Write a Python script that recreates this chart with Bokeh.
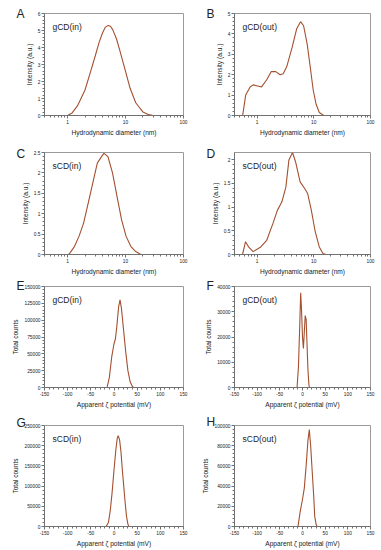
from bokeh.plotting import figure
from bokeh.layouts import gridplot
from bokeh.models import Range1d, FixedTicker, NumeralTickFormatter, Label
from bokeh.embed import file_html
from bokeh.resources import INLINE

# ---------------- data ----------------
# A: gCD(in) size distribution
a_d = [1.0, 1.2, 1.5, 2.0, 2.5, 3.0, 3.5, 4.0, 4.5, 5.0, 5.5, 6.0, 7.0, 8.0, 10, 12, 15, 20, 25, 30]
a_i = [0.0, 0.15, 0.6, 1.5, 2.6, 3.5, 4.3, 4.85, 5.2, 5.3, 5.25, 5.05, 4.5, 3.8, 2.6, 1.6, 0.75, 0.2, 0.05, 0.0]
# B: gCD(out) size distribution
b_d = [0.557, 0.63, 0.755, 0.853, 1.02, 1.2, 1.48, 1.77, 2.13, 2.55, 2.89, 3.34, 4.16, 4.99, 5.85, 6.61, 7.65, 8.64, 9.76, 11.0, 12.5, 15.0]
b_i = [0.0, 1.0, 1.4, 1.5, 1.45, 1.4, 1.75, 2.15, 2.15, 2.0, 2.05, 2.4, 3.35, 4.25, 4.6, 4.4, 3.5, 2.4, 1.25, 0.55, 0.15, 0.0]
# C: sCD(in) size distribution
c_d = [1.04, 1.10, 1.32, 1.58, 1.89, 2.27, 2.72, 3.26, 3.9, 4.25, 4.97, 5.96, 7.14, 8.55, 10.2, 12.3, 14.7, 18.4]
c_i = [0.0, 0.04, 0.2, 0.45, 0.77, 1.26, 1.75, 2.24, 2.41, 2.48, 2.4, 2.0, 1.42, 0.85, 0.45, 0.2, 0.08, 0.0]
# D: sCD(out) size distribution
d_d = [0.554, 0.626, 0.709, 0.852, 1.16, 1.48, 1.90, 2.28, 2.74, 3.22, 3.64, 4.22, 4.78, 5.74, 6.91, 7.82, 9.06, 10.6, 12.5, 14.5, 16.4]
d_i = [0.0, 0.27, 0.16, 0.06, 0.16, 0.3, 0.65, 0.93, 1.11, 1.42, 1.99, 2.15, 1.95, 1.53, 1.39, 1.28, 0.93, 0.48, 0.16, 0.02, 0.0]
# E: gCD(in) zeta potential
e_z = [-15, -10, -5, 0, 3, 6, 10, 13, 16, 20, 25, 30, 35, 40, 43]
e_c = [0, 15000, 45000, 65000, 72000, 90000, 120000, 130000, 118000, 90000, 55000, 25000, 8000, 1000, 0]
# F: gCD(out) zeta potential
f_z = [-12, -9, -6, -4, -2, 0, 2, 4, 6, 8, 10, 12, 14, 15]
f_c = [0, 8000, 25000, 37500, 30000, 20000, 15500, 22000, 28500, 27000, 17000, 7000, 1500, 0]
# G: sCD(in) zeta potential
g_z = [-17, -12, -8, -4, 0, 4, 7, 9, 12, 15, 18, 21, 24, 27, 30, 32]
g_c = [0, 10000, 40000, 85000, 140000, 190000, 218000, 225000, 215000, 185000, 140000, 100000, 60000, 25000, 6000, 0]
# H: sCD(out) zeta potential
h_z = [-10, -5, 0, 4, 8, 12, 15, 18, 22, 25, 27, 30, 32]
h_c = [0, 15000, 27000, 38000, 60000, 85000, 96000, 80000, 50000, 28000, 10000, 2000, 0]

# axis ticks
log_major = [1, 10, 100]
log_minor = [0.4, 0.5, 0.6, 0.7, 0.8, 0.9, 2, 3, 4, 5, 6, 7, 8, 9, 20, 30, 40, 50, 60, 70, 80, 90]
zeta_ticks = [-150, -100, -50, 0, 50, 100, 150]
a_yticks = [0, 1, 2, 3, 4, 5, 6]
b_yticks = [0, 1, 2, 3, 4, 5]
c_yticks = [0, 0.5, 1, 1.5, 2, 2.5]
d_yticks = [0, 0.5, 1, 1.5, 2]
e_yticks = [0, 25000, 50000, 75000, 100000, 125000, 150000]
f_yticks = [0, 10000, 20000, 30000, 40000]
g_yticks = [0, 50000, 100000, 150000, 200000, 250000]
h_yticks = [0, 20000, 40000, 60000, 80000, 100000]

letters = ["A", "B", "C", "D", "E", "F", "G", "H"]
names = ["gCD(in)", "gCD(out)", "sCD(in)", "sCD(out)", "gCD(in)", "gCD(out)", "sCD(in)", "sCD(out)"]
letter_rise = [7, 7, 6, 6, 8, 8, 10, 11]

LINE = "#a3502f"
FONT = "Liberation Sans"
TXT = "#222222"
AX = "#707070"

# row geometry: (top border, bottom border, figure height)
rows = [(13, 22, 138), (14, 22, 139), (9, 22, 133), (15, 24, 140)]


def make(idx, xs, ys, yticks, ymax, kind):
    r, c = divmod(idx, 2)
    top, bot, h = rows[r]
    if c == 0:
        w, bl, br = 190, 34, 7
    else:
        w, bl, br = 191, 32, 11
    common = dict(width=w, height=h, y_range=Range1d(0, ymax), output_backend="svg",
                  toolbar_location=None, min_border_left=bl, min_border_right=br,
                  min_border_top=top, min_border_bottom=bot)
    if kind == "size":
        p = figure(x_axis_type="log", x_range=Range1d(0.4, 100), **common)
        p.xaxis.ticker = FixedTicker(ticks=log_major, minor_ticks=log_minor)
        p.xaxis.axis_label = "Hydrodynamic diameter (nm)"
        p.yaxis.axis_label = "Intensity (a.u.)"
        xmin = 0.4
    else:
        p = figure(x_range=Range1d(-150, 150), **common)
        zminor = [v for v in range(-150, 151, 10) if v not in zeta_ticks]
        p.xaxis.ticker = FixedTicker(ticks=zeta_ticks, minor_ticks=zminor)
        p.xaxis.axis_label = "Apparent \u03b6 potential (mV)"
        p.yaxis.axis_label = "Total counts"
        xmin = -150
    p.xaxis.formatter = NumeralTickFormatter(format="0")
    step = yticks[1] - yticks[0]
    yminor = [yticks[0] + step * k / 5 for k in range(1, 5 * (len(yticks) - 1) + 1) if k % 5]
    p.yaxis.ticker = FixedTicker(ticks=yticks, minor_ticks=yminor)
    p.yaxis.formatter = NumeralTickFormatter(format="0.[0]")

    p.xgrid.visible = False
    p.ygrid.visible = False
    p.outline_line_color = "#9a9a9a"
    p.background_fill_color = "white"
    p.border_fill_color = "white"
    for ax in (p.xaxis[0], p.yaxis[0]):
        ax.axis_line_color = AX
        ax.major_tick_line_color = AX
        ax.minor_tick_line_color = AX
        ax.major_tick_out = 3
        ax.major_tick_in = 0
        ax.minor_tick_out = 2
        ax.minor_tick_in = 0
        ax.major_label_text_font = FONT
        ax.major_label_text_font_size = "4.8px"
        ax.major_label_text_color = TXT
        ax.major_label_standoff = 1
        ax.axis_label_text_font = FONT
        ax.axis_label_text_font_size = "6.6px"
        ax.axis_label_text_font_style = "normal"
        ax.axis_label_text_color = TXT
        ax.axis_label_standoff = 2

    p.line(xs, ys, line_color=LINE, line_width=1.1)

    p.add_layout(Label(x=xmin, y=ymax, x_offset=-28, y_offset=letter_rise[idx], text=letters[idx],
                       text_font=FONT, text_font_size="12px", text_color=TXT,
                       text_baseline="top", text_align="left"), "left")
    p.add_layout(Label(x=xmin, y=ymax, x_offset=8, y_offset=-8, text=names[idx],
                       text_font=FONT, text_font_size="8.5px", text_color=TXT,
                       text_baseline="top", text_align="left"))
    return p


figs = [
    make(0, a_d, a_i, a_yticks, 6, "size"),
    make(1, b_d, b_i, b_yticks, 5, "size"),
    make(2, c_d, c_i, c_yticks, 2.5, "size"),
    make(3, d_d, d_i, d_yticks, 2.15, "size"),
    make(4, e_z, e_c, e_yticks, 150000, "zeta"),
    make(5, f_z, f_c, f_yticks, 40000, "zeta"),
    make(6, g_z, g_c, g_yticks, 250000, "zeta"),
    make(7, h_z, h_c, h_yticks, 100000, "zeta"),
]

grid = gridplot(figs, ncols=2, toolbar_location=None)

open("out.html", "w").write(file_html(grid, INLINE))
